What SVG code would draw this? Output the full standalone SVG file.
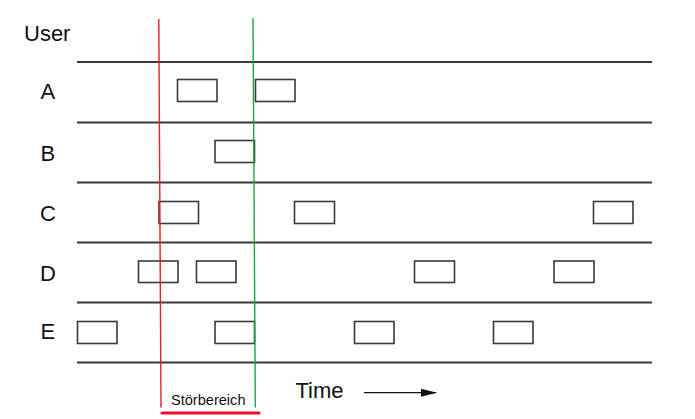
<svg xmlns="http://www.w3.org/2000/svg" width="695" height="419" viewBox="0 0 695 419">
<style>
.lane{stroke:#3a3a3a;stroke-width:1.8;fill:none}
.box{fill:#fff;stroke:#3a3a3a;stroke-width:1.6}
.lbl{font-family:"Liberation Sans",Arial,sans-serif;font-size:22px;fill:#111}
.small{font-family:"Liberation Sans",Arial,sans-serif;font-size:14.5px;fill:#111}
</style>
<defs>
<marker id="arr" markerWidth="16" markerHeight="8" refX="15" refY="4" orient="auto" markerUnits="userSpaceOnUse">
<path d="M0,0 L16,4 L0,8 Z" fill="#111"/>
</marker>
</defs>
<rect width="695" height="419" fill="#fff"/>
<g id="lanes">
<line class="lane" x1="77" y1="62" x2="652" y2="62"/>
<line class="lane" x1="77" y1="122.5" x2="652" y2="122.5"/>
<line class="lane" x1="77" y1="182.5" x2="652" y2="182.5"/>
<line class="lane" x1="77" y1="242.5" x2="652" y2="242.5"/>
<line class="lane" x1="77" y1="302.5" x2="652" y2="302.5"/>
<line class="lane" x1="77" y1="362.5" x2="652" y2="362.5"/>
</g>
<text class="lbl" x="24" y="41">User</text>
<g id="userA"><text class="lbl" x="40.5" y="99">A</text>
<rect class="box" x="177.5" y="79.5" width="39.5" height="22"/>
<rect class="box" x="255.5" y="79.5" width="39.5" height="22"/>
</g>
<g id="userB"><text class="lbl" x="40.5" y="160.5">B</text>
<rect class="box" x="215" y="140.5" width="39.5" height="22"/>
</g>
<g id="userC"><text class="lbl" x="40" y="220.5">C</text>
<rect class="box" x="159" y="201.5" width="39.5" height="22"/>
<rect class="box" x="294.5" y="201.5" width="40" height="22"/>
<rect class="box" x="593.5" y="201.5" width="39.5" height="22"/>
</g>
<g id="userD"><text class="lbl" x="40" y="280.5">D</text>
<rect class="box" x="138.5" y="261" width="39.5" height="21.5"/>
<rect class="box" x="196.5" y="261" width="39.5" height="21.5"/>
<rect class="box" x="414.5" y="261" width="40" height="21.5"/>
<rect class="box" x="554" y="261" width="40" height="21.5"/>
</g>
<g id="userE"><text class="lbl" x="40.5" y="338.5">E</text>
<rect class="box" x="77.5" y="321.5" width="39.5" height="22"/>
<rect class="box" x="215" y="321.5" width="39.5" height="22"/>
<rect class="box" x="354.5" y="321.5" width="39.5" height="22"/>
<rect class="box" x="493.5" y="321.5" width="39.5" height="22"/>
</g>
<g id="connectors">
<line x1="158.8" y1="19" x2="161" y2="407.5" stroke="#ee1c25" stroke-width="1.4"/>
<line x1="253" y1="18" x2="255.3" y2="407.5" stroke="#1aa34a" stroke-width="1.4"/>
<line x1="162" y1="413" x2="259" y2="413" stroke="#e8102a" stroke-width="3.2" stroke-linecap="round"/>
<line x1="364" y1="392.7" x2="436" y2="392.7" stroke="#111" stroke-width="1.3" marker-end="url(#arr)"/>
</g>
<text class="small" x="171" y="405" textLength="74.5" lengthAdjust="spacingAndGlyphs">Störbereich</text>
<text class="lbl" x="295.5" y="397.5">Time</text>
</svg>
